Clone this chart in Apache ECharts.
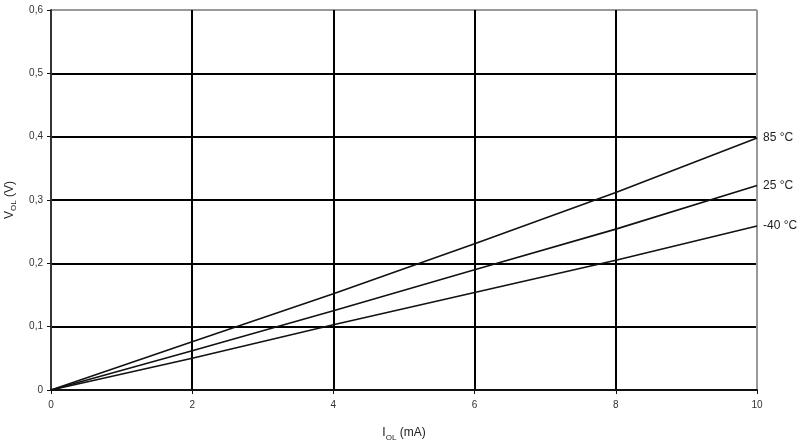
<!DOCTYPE html>
<html><head><meta charset="utf-8">
<script src="https://cdn.jsdelivr.net/npm/echarts@6/dist/echarts.min.js"></script>
<style>html,body{margin:0;padding:0;background:#fff}#c{width:801px;height:442px}</style>
</head><body><div id="c"></div>
<script>
const xValues = [0, 2, 4, 6, 8, 10];
const seriesNames = ['85 °C', '25 °C', '-40 °C'];
const v85 = [0, 0.076, 0.152, 0.231, 0.312, 0.398];
const v25 = [0, 0.062, 0.125, 0.190, 0.254, 0.323];
const vM40 = [0, 0.050, 0.103, 0.154, 0.205, 0.259];
const allValues = [v85, v25, vM40];

const chart = echarts.init(document.getElementById('c'));
const font = 'Liberation Sans, Arial, sans-serif';
const rich = {m: {fontSize: 12, fontFamily: font, color: '#222', lineHeight: 14, verticalAlign:'bottom'}, s: {fontSize: 8, fontFamily: font, color: '#222', lineHeight: 14, verticalAlign: 'bottom', padding:[0,0,-3,0]}};
chart.setOption({
  animation: false,
  grid: {left: 51, right: 44, top: 10, bottom: 52, containLabel: false, outerBoundsMode: 'none'},
  xAxis: {
    type: 'value', min: 0, max: 10, interval: 2,
    name: '{m|I}{s|OL}{m| (mA)}', nameLocation: 'middle', nameGap: 35,
    nameTextStyle: {rich: rich},
    axisLine: {lineStyle: {color: '#111', width: 2}},
    axisTick: {show: true, length: 4, lineStyle: {color: '#111', width: 1}},
    axisLabel: {fontSize: 10, fontFamily: font, color: '#333', margin: 10},
    splitLine: {show: true, lineStyle: {color: ['#000','#000','#000','#000','#000','#999'], width: 2}}
  },
  yAxis: {
    type: 'value', min: 0, max: 0.6, interval: 0.1,
    name: '{m|V}{s|OL}{m| (V)}', nameLocation: 'middle', nameGap: 35,
    nameTextStyle: {rich: rich},
    axisLine: {show: true, lineStyle: {color: '#333', width: 2}},
    axisTick: {show: true, length: 4, lineStyle: {color: '#111', width: 1}},
    axisLabel: {fontSize: 10, fontFamily: font, color: '#333', margin: 8,
      formatter: v => String(Math.round(v * 10) / 10).replace('.', ',')},
    splitLine: {show: true, lineStyle: {color: ['#000','#000','#000','#000','#000','#000','#999'], width: 2}}
  },
  series: seriesNames.map((n, i) => ({
    name: n, type: 'line', showSymbol: false, symbol: 'none',
    data: xValues.map((x, j) => [x, allValues[i][j]]),
    lineStyle: {color: '#111', width: 1.6},
    endLabel: {show: true, formatter: n, fontSize: 12, fontFamily: font, color: '#222', distance: 6}
  }))
});
</script></body></html>
